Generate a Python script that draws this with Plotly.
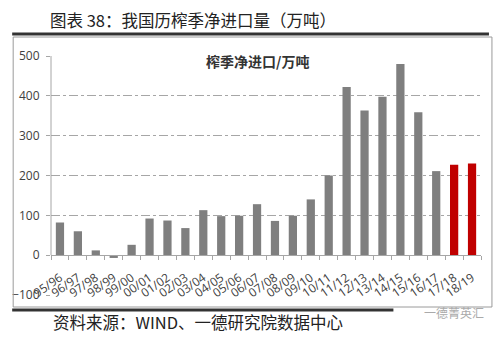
import plotly.graph_objects as go

# Crop seasons and net imports (10k tonnes)
seasons = ["95/96", "96/97", "97/98", "98/99", "99/00", "00/01", "01/02", "02/03",
           "03/04", "04/05", "05/06", "06/07", "07/08", "08/09", "09/10", "10/11",
           "11/12", "12/13", "13/14", "14/15", "15/16", "16/17", "17/18", "18/19"]
net_imports = [82, 60, 12, -7, 26, 92, 87, 68, 113, 98, 99, 128, 86, 99, 140, 200,
               422, 363, 398, 480, 359, 211, 227, 230]
highlight = ["17/18", "18/19"]
y_ticks = [-100, 0, 100, 200, 300, 400, 500]

GRAY = "#7f7f7f"
RED = "#c00000"
bar_colors = [RED if s in highlight else GRAY for s in seasons]

y_min, y_max = -100, 500

fig = go.Figure(go.Bar(x=seasons, y=net_imports, marker=dict(color=bar_colors, line=dict(width=0))))

fig.update_layout(
    width=500, height=340, autosize=False,
    margin=dict(l=49, r=19, t=56, b=45),
    paper_bgcolor="white", plot_bgcolor="white",
    bargap=0.54, showlegend=False,
    font=dict(family="Open Sans, Noto Sans CJK SC", color="#404040"),
)

fig.update_yaxes(
    range=[y_min, y_max], tickvals=y_ticks,
    showgrid=True, gridcolor="#a6a6a6", griddash="dashdot", gridwidth=1,
    zeroline=False, showline=False,
    ticks="outside", ticklen=4, tickcolor="#a6a6a6",
    ticklabelstandoff=4,
    tickfont=dict(size=12, color="#404040", family="Open Sans"),
)

# category axis drawn along the zero line
fig.update_xaxes(
    type="category", anchor="free", position=(0 - y_min) / (y_max - y_min),
    showline=True, linecolor="#a6a6a6", linewidth=1,
    ticks="outside", ticklen=4, tickcolor="#a6a6a6", tickson="boundaries",
    tickangle=-35, showgrid=False, ticklabelstandoff=10,
    tickfont=dict(size=12, color="#404040", family="Open Sans"),
)

# vertical value-axis line from 0 upward
fig.add_shape(type="line", xref="paper", yref="y", x0=0, x1=0, y0=0, y1=y_max,
              line=dict(color="#a6a6a6", width=1))

# outer frame and heavy rules
W, H = 432.0, 239.0
def px(x):
    return (x - 49) / W
def py(y):
    return (295 - y) / H

fig.add_shape(type="rect", xref="paper", yref="paper",
              x0=px(11), x1=px(492), y0=py(307), y1=py(37),
              line=dict(color="#9a9a9a", width=1))
fig.add_shape(type="line", xref="paper", yref="paper",
              x0=px(10), x1=px(489), y0=py(34), y1=py(34),
              line=dict(color="#333333", width=3))
fig.add_shape(type="line", xref="paper", yref="paper",
              x0=px(10), x1=px(393), y0=py(310), y1=py(310),
              line=dict(color="#333333", width=3))

fig.add_annotation(text="图表 38：我国历榨季净进口量（万吨）", xref="paper", yref="paper",
                   x=px(46), y=py(20), xanchor="left", yanchor="middle", showarrow=False,
                   font=dict(size=16.5, color="#222222", family="Noto Sans CJK SC"))
fig.add_annotation(text="<b>榨季净进口/万吨</b>", xref="paper", yref="paper",
                   x=px(256), y=py(61), xanchor="center", yanchor="middle", showarrow=False,
                   font=dict(size=14, color="#333333", family="Noto Sans CJK SC"))
fig.add_annotation(text="资料来源：WIND、一德研究院数据中心", xref="paper", yref="paper",
                   x=px(49), y=py(322), xanchor="left", yanchor="middle", showarrow=False,
                   font=dict(size=16.5, color="#222222", family="Noto Sans CJK SC"))
fig.add_annotation(text="一德菁英汇", xref="paper", yref="paper",
                   x=px(486), y=py(312), xanchor="right", yanchor="middle", showarrow=False,
                   font=dict(size=12, color="#aaaaaa", family="Noto Sans CJK SC"))

fig.write_html("out.html")
